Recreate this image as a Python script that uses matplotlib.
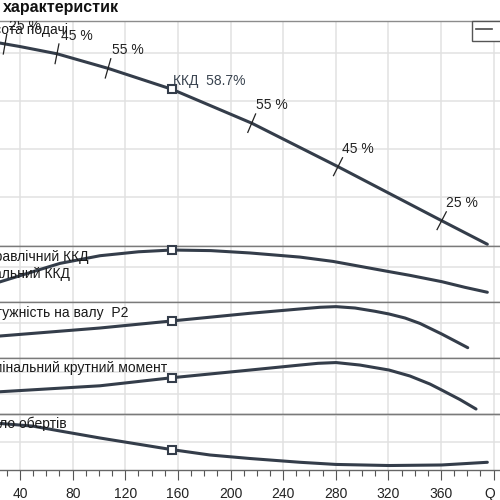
import numpy as np
import matplotlib
matplotlib.use("Agg")
import matplotlib.pyplot as plt
from matplotlib.lines import Line2D
from matplotlib.ticker import MultipleLocator

plt.rcParams['font.family'] = ['Liberation Sans', 'DejaVu Sans']

# ---------------- data ----------------
q_head = [0, 24.8, 40.0, 68.1, 106.9, 155.3, 174.5, 216.1, 281.7, 360.5, 395.2]
h_head = [31.44, 31.0, 30.64, 29.89, 28.38, 26.22, 25.11, 22.70, 18.19, 12.59, 10.15]

q_eff = [10, 24.8, 49.9, 70.4, 100.8, 130.0, 155.3, 185.0, 214.8, 252.8, 277.9,
         320.5, 336.4, 360.5, 378.2, 395.2]
eff = [38.9, 42.5, 47.7, 51.9, 55.8, 57.8, 58.7, 58.4, 57.2, 55.1, 52.9,
       47.7, 45.8, 42.6, 39.7, 37.2]

q_pow = [9.6, 24.8, 100.8, 155.3, 214.8, 252.8, 268.0, 280.2, 294.6, 309.8,
         320.5, 332.6, 344.0, 360.5, 370.6, 380.3]
p2 = [18.22, 18.41, 19.41, 20.29, 21.25, 21.79, 22.00, 22.08, 21.91, 21.50,
      21.16, 20.66, 19.98, 18.66, 17.79, 16.95]

q_trq = [10, 24.8, 100.8, 155.3, 214.8, 252.8, 266.5, 280.2, 298.4, 320.5,
         336.4, 351.6, 360.5, 374.4, 386.6]
torque = [120.5, 122.1, 127.6, 135.0, 142.1, 146.7, 148.3, 149.0, 146.7, 142.1,
          136.6, 129.2, 123.7, 114.9, 106.2]

q_spd = [10, 24.8, 49.9, 70.4, 100.8, 155.3, 184.4, 214.8, 252.8, 280.2, 320.5,
         360.5, 395.2]
speed = [1477.5, 1477.0, 1476.0, 1474.2, 1471.6, 1467.3, 1465.3, 1464.0, 1462.6,
         1461.8, 1461.4, 1461.6, 1462.6]

bep_q = 155.3
bep_label = "ККД  58.7%"

iso_q = [28.6, 68.1, 106.9, 216.1, 281.7, 360.5]
iso_h = [30.89, 29.89, 28.38, 22.70, 18.19, 12.59]
iso_lbl = ["25 %", "45 %", "55 %", "55 %", "45 %", "25 %"]

x_ticks = [40, 80, 120, 160, 200, 240, 280, 320, 360]
x_label = "Q [m³/h]"
title = "характеристик"
panel_labels = ["Висота подачі", "Гідравлічний ККД", "Загальний ККД",
                "Потужність на валу  P2", "Номінальний крутний момент", "Число обертів"]

# ---------------- styling / layout ----------------
W = H = 500.0
C = '#343d4a'
GRID = '#e1e1e1'
SEP = '#7a7a7a'

fig = plt.figure(figsize=(5, 5), dpi=100)
fig.patch.set_facecolor('white')

def rect(top_px, bot_px):
    return [-32.6 / W, 1 - bot_px / H, 539.4 / W, (bot_px - top_px) / H]

panels = [
    (20.5, 245.7, (10, 33.34), [15, 20, 25, 30]),
    (245.7, 302.0, (32.24, 60.9), [50]),
    (302.0, 358.0, (15.66, 22.66), [20]),
    (358.0, 414.0, (101.6, 153.2), [120, 140]),
    (414.0, 469.7, (1459.85, 1480.5), [1470, 1480]),
]
axes = []
for i, (t, b, yl, yt) in enumerate(panels):
    ax = fig.add_axes(rect(t, b))
    ax.set_xlim(0, 410)
    ax.set_ylim(*yl)
    ax.set_yticks(yt)
    ax.xaxis.set_major_locator(MultipleLocator(40))
    ax.set_axisbelow(True)
    ax.grid(True, which='major', color=GRID, lw=1.1)
    for s in ('left', 'right'):
        ax.spines[s].set_visible(False)
    for s in ('top', 'bottom'):
        ax.spines[s].set_color(SEP)
        ax.spines[s].set_linewidth(1.0)
    ax.tick_params(axis='y', length=0, labelleft=False)
    if i < 4:
        ax.tick_params(axis='x', length=0, labelbottom=False)
    axes.append(ax)

axes[0].spines['top'].set_color('#8c8c8c')
ax_h, ax_e, ax_p, ax_t, ax_s = axes

# bottom axis ticks
ax_s.xaxis.set_minor_locator(MultipleLocator(10))
ax_s.set_xticks(list(x_ticks) + [400])
ax_s.set_xticklabels([str(v) for v in x_ticks] + [""])
ax_s.tick_params(axis='x', which='major', direction='out', length=7.2, width=0.8,
                 color='#555555', labelsize=10, pad=5.5, labelcolor='#222222')
ax_s.tick_params(axis='x', which='minor', direction='out', length=4.3, width=0.8,
                 color='#555555')
ax_s.spines['bottom'].set_color('#666666')
ax_s.annotate(x_label, xy=(400, 0), xycoords=('data', 'axes fraction'),
              xytext=(-8.6, -28.6), textcoords='offset pixels', ha='left',
              va='baseline', fontsize=10, color='#222222', annotation_clip=False)

# curves
series = [(ax_h, q_head, h_head), (ax_e, q_eff, eff), (ax_p, q_pow, p2),
          (ax_t, q_trq, torque), (ax_s, q_spd, speed)]
for ax, qs, vs in series:
    ax.plot(qs, vs, color=C, lw=2.2, solid_capstyle='round',
            solid_joinstyle='round', zorder=3)
    idx = qs.index(bep_q)
    ax.plot([qs[idx]], [vs[idx]], marker='s', ms=5.2, mfc='white', mec=C,
            mew=1.5, zorder=5, clip_on=False)

# iso-efficiency ticks on the head curve
tr = ax_h.transData
qd = np.array(q_head)
pts = tr.transform(np.column_stack([qd, np.array(h_head)]))
for q, h, lbl in zip(iso_q, iso_h, iso_lbl):
    p = tr.transform((q, h))
    i = int(np.searchsorted(qd, q))
    d = pts[i] - pts[i - 1]
    d = d / np.hypot(*d)
    n = np.array([-d[1], d[0]])
    seg = tr.inverted().transform(np.array([p - 10 * n, p + 10 * n]))
    ax_h.plot(seg[:, 0], seg[:, 1], color='#222222', lw=0.9, zorder=4)
    ax_h.annotate(lbl, (q, h), xytext=(4, 14), textcoords='offset pixels',
                  ha='left', va='baseline', fontsize=10, color='#222222',
                  clip_on=True)

bi = q_head.index(bep_q)
ax_h.annotate(bep_label, (q_head[bi], h_head[bi]), xytext=(1.5, 4.5),
              textcoords='offset pixels', ha='left', va='baseline',
              fontsize=10, color='#3a4450')

# panel labels (right ends / baselines in figure pixels)
label_pos = [(68.3, 34.3), (88.3, 260.7), (70.0, 277.7), (128.3, 316.7),
             (167.5, 371.7), (66.7, 427.7)]
for txt, (xe, yb) in zip(panel_labels, label_pos):
    fig.text(xe / W, 1 - yb / H, txt, ha='right', va='baseline', fontsize=10,
             color='#1a1a1a')

# title
fig.text(3 / W, 1 - 11.7 / H, title, ha='left', va='baseline', fontsize=11.5,
         fontweight='bold', color='#111111')

# legend
leg = ax_h.legend([Line2D([], [], color='#4a4a4a', lw=1.2)], ["Робоча точка"],
                  loc='upper left', bbox_to_anchor=(472.3 / W, 1 - 20.5 / H),
                  bbox_transform=fig.transFigure, fontsize=9, frameon=True,
                  fancybox=False, borderpad=0.33, handlelength=1.28,
                  borderaxespad=0, handletextpad=0.5, framealpha=1)
leg.get_frame().set_edgecolor('#555555')
leg.get_frame().set_linewidth(1.0)

fig.savefig('out.png', dpi=100)
